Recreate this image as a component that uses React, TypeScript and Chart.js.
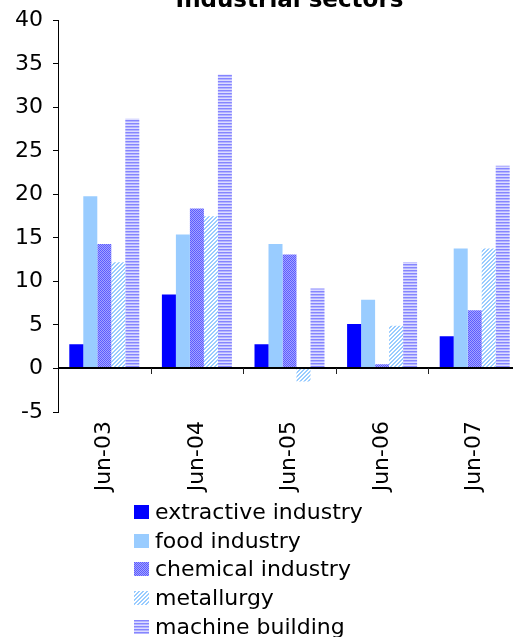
import React, { useEffect, useRef, useState } from 'react';
import { Chart, registerables } from 'chart.js';

Chart.register(...registerables);

const categories = ['Jun-03', 'Jun-04', 'Jun-05', 'Jun-06', 'Jun-07'];
const seriesNames = ['extractive industry', 'food industry', 'chemical industry', 'metallurgy', 'machine building'];
const extractive = [2.8, 8.5, 2.8, 5.1, 3.7];
const food = [19.8, 15.4, 14.3, 7.9, 13.8];
const chemical = [14.3, 18.4, 13.1, 0.5, 6.7];
const metallurgy = [12.2, 17.5, -1.5, 4.9, 13.8];
const machine = [28.7, 33.8, 9.2, 12.2, 23.3];
const yMin = -5;
const yMax = 40;
const yStep = 5;
const titleText = 'Industrial sectors';

const FONT = '"DejaVu Sans", Verdana, sans-serif';

function makeTile(w: number, h: number, fn: (x: number, y: number) => string) {
  const c = document.createElement('canvas');
  c.width = w;
  c.height = h;
  const ctx = c.getContext('2d')!;
  for (let y = 0; y < h; y++) {
    for (let x = 0; x < w; x++) {
      ctx.fillStyle = fn(x, y);
      ctx.fillRect(x, y, 1, 1);
    }
  }
  return c;
}

function makeTiles() {
  const solidA = makeTile(2, 2, () => '#0000ff');
  const solidB = makeTile(2, 2, () => '#99ccff');
  const checker = makeTile(2, 2, (x, y) => ((x + y) % 2 === 0 ? '#5c5cff' : '#a3a3ff'));
  const diag = makeTile(4, 4, (x, y) => (((x + y) % 4) < 2 ? '#99ccff' : '#ffffff'));
  const stripes = makeTile(2, 3, (x, y) => (y === 0 ? '#8585ff' : y === 1 ? '#b5b5ff' : '#dcdcff'));
  return [solidA, solidB, checker, diag, stripes];
}

const zeroAxis = {
  id: 'zeroAxis',
  afterDatasetsDraw(chart: any) {
    const { ctx, chartArea, scales } = chart;
    const y = Math.round(scales.y.getPixelForValue(0));
    ctx.save();
    ctx.strokeStyle = '#000';
    ctx.lineWidth = 2;
    ctx.beginPath();
    ctx.moveTo(chartArea.left, y);
    ctx.lineTo(chartArea.right, y);
    ctx.stroke();
    ctx.lineWidth = 1;
    ctx.strokeStyle = '#222';
    const xs = scales.x;
    for (let i = 0; i < categories.length; i++) {
      const a = xs.getPixelForTick(i);
      const xb = i + 1 < categories.length ? (a + xs.getPixelForTick(i + 1)) / 2 : chartArea.right;
      const px = Math.round(xb) + 0.5;
      ctx.beginPath();
      ctx.moveTo(px, y);
      ctx.lineTo(px, y + 6);
      ctx.stroke();
    }
    ctx.restore();
  },
};

export default function App() {
  const ref = useRef<HTMLCanvasElement | null>(null);
  const [swatches, setSwatches] = useState<string[]>([]);

  useEffect(() => {
    const tiles = makeTiles();
    setSwatches(tiles.map((t) => t.toDataURL()));
    const canvas = ref.current!;
    const ctx = canvas.getContext('2d')!;
    const fills = [
      '#0000ff',
      '#99ccff',
      ctx.createPattern(tiles[2], 'repeat'),
      ctx.createPattern(tiles[3], 'repeat'),
      ctx.createPattern(tiles[4], 'repeat'),
    ];
    const values = [extractive, food, chemical, metallurgy, machine];
    const chart = new Chart(canvas, {
      type: 'bar',
      data: {
        labels: categories,
        datasets: seriesNames.map((name, i) => ({
          label: name,
          data: values[i],
          backgroundColor: fills[i] as any,
          borderWidth: 0,
          barPercentage: 1,
          categoryPercentage: 0.756,
        })),
      },
      options: {
        responsive: false,
        animation: false,
        devicePixelRatio: 1,
        layout: { padding: 0 },
        plugins: {
          legend: { display: false },
          tooltip: { enabled: false },
          title: {
            display: true,
            text: titleText,
            fullSize: false,
            color: '#000',
            font: { family: FONT, size: 23, weight: 'bold', lineHeight: 1.15 },
            padding: { top: 0, bottom: 6 },
          },
        },
        scales: {
          x: {
            grid: { display: false },
            border: { display: false },
            ticks: {
              color: '#000',
              font: { family: FONT, size: 22 },
              minRotation: 90,
              maxRotation: 90,
              autoSkip: false,
              padding: 1,
            },
            afterFit: (s: any) => {
              s.height = 90;
            },
          },
          y: {
            min: yMin,
            max: yMax,
            ticks: {
              stepSize: yStep,
              color: '#000',
              font: { family: FONT, size: 22 },
              padding: 10,
            },
            grid: {
              display: true,
              drawOnChartArea: false,
              drawTicks: true,
              tickLength: 5,
              color: '#000',
            },
            border: { display: true, color: '#000', width: 1 },
            afterFit: (s: any) => {
              s.width = 58;
            },
          },
        },
      },
      plugins: [zeroAxis],
    });
    return () => chart.destroy();
  }, []);

  return (
    <div style={{ position: 'absolute', left: 0, top: 0, width: 513, height: 637, overflow: 'hidden', background: '#fff' }}>
      <canvas ref={ref} width={521} height={514} style={{ position: 'absolute', left: 0, top: -12, display: 'block' }} />
      <div style={{ position: 'absolute', left: 134, top: 498 }}>
        {seriesNames.map((n, i) => (
          <div key={n} style={{ display: 'flex', alignItems: 'center', height: 28.6 }}>
            <span
              style={{
                display: 'inline-block',
                width: 15,
                height: 14,
                marginRight: 6,
                backgroundImage: swatches[i] ? `url(${swatches[i]})` : undefined,
                backgroundRepeat: 'repeat',
              }}
            />
            <span style={{ fontFamily: FONT, fontSize: 22, lineHeight: '22px', color: '#000', whiteSpace: 'nowrap' }}>{n}</span>
          </div>
        ))}
      </div>
    </div>
  );
}
